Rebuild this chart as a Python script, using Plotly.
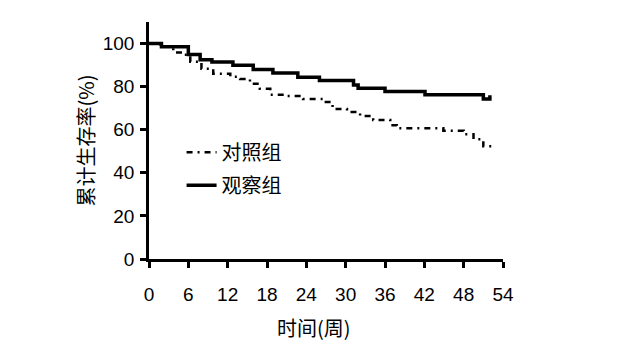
import plotly.graph_objects as go

# Observation group (solid) step curve
obs_weeks = [0, 1.9, 6.0, 7.8, 9.6, 12.8, 15.9, 18.9, 22.7, 26.0, 31.2, 31.9, 36.0, 42.1, 51.0, 52.0]
obs_surv = [100, 98.5, 94.9, 92.5, 91.4, 89.9, 87.9, 86.3, 84.4, 82.9, 80.8, 79.3, 77.7, 76.2, 74.3, 76.0]

# Control group (dash-dot) step curve
ctl_weeks = [0, 1.7, 3.7, 5.2, 6.3, 8.0, 9.8, 12.4, 13.9, 15.4, 16.9, 18.5, 21.0, 23.5, 26.5, 28.0,
             30.2, 32.2, 34.2, 36.8, 37.8, 44.9, 48.0, 49.5, 51.0, 52.3]
ctl_surv = [100, 98.5, 95.8, 94.8, 91.6, 88.3, 86.0, 84.6, 83.6, 81.3, 79.0, 76.2, 75.7, 74.3, 72.9, 69.6,
            68.2, 66.4, 64.5, 62.1, 60.7, 59.5, 57.9, 55.6, 52.3, 52.3]

x_ticks = [0, 6, 12, 18, 24, 30, 36, 42, 48, 54]
y_ticks = [0, 20, 40, 60, 80, 100]

FONT = "Liberation Sans, Arial, Noto Sans CJK SC"
CJK = "Noto Sans CJK SC"

fig = go.Figure()
fig.add_trace(go.Scatter(x=ctl_weeks, y=ctl_surv, mode="lines", name="对照组", legendgroup="a",
                         line=dict(color="black", width=2.5, dash="6px,5px,2px,5px", shape="hv")))
fig.add_trace(go.Scatter(x=obs_weeks, y=obs_surv, mode="lines", name="观察组", legendgroup="b",
                         line=dict(color="black", width=3.5, shape="hv")))

fig.update_layout(
    width=616, height=347,
    margin=dict(l=141, r=121, t=14, b=96),
    paper_bgcolor="white", plot_bgcolor="white",
    font=dict(family=FONT, color="black", size=20),
    legend=dict(x=0.092, y=0.533, xanchor="left", yanchor="top",
                bgcolor="rgba(0,0,0,0)", font=dict(size=20, family=CJK),
                itemwidth=30, traceorder="grouped", tracegroupgap=4),
    xaxis=dict(range=[0, 54], tickvals=x_ticks, ticktext=[str(v) for v in x_ticks],
               showgrid=False, zeroline=False, showline=True, linecolor="black", linewidth=2.5,
               ticks="outside", ticklen=6, tickwidth=2.5, tickcolor="black",
               tickfont=dict(size=19), ticklabelstandoff=10),
    yaxis=dict(range=[0, 110], tickvals=y_ticks, ticktext=[str(v) for v in y_ticks],
               showgrid=False, zeroline=False, showline=True, linecolor="black", linewidth=2.5,
               ticks="outside", ticklen=6, tickwidth=2.5, tickcolor="black",
               tickfont=dict(size=19), ticklabelstandoff=2,
               title=dict(text="累计生存率(%)", font=dict(size=20, family=CJK), standoff=3)),
    annotations=[dict(text="时间(周)", xref="paper", yref="paper", x=0.466, y=-0.287,
                      xanchor="center", yanchor="middle", showarrow=False,
                      font=dict(size=20, family=CJK))],
)

fig.write_html("out.html")
